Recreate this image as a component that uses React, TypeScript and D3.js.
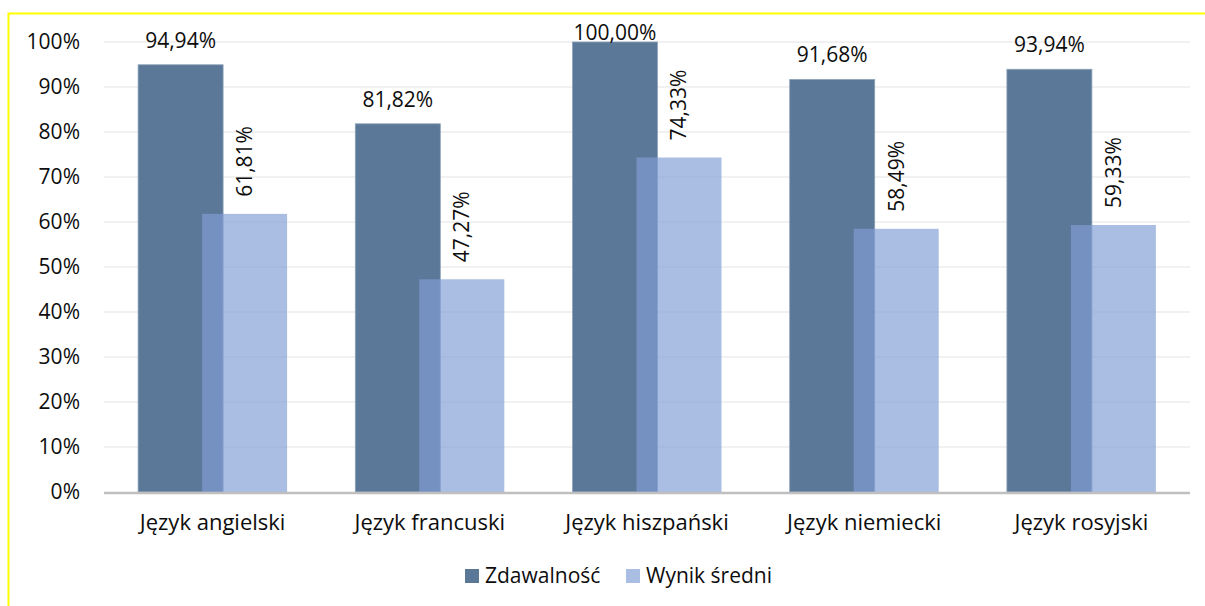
import React from "react";
import * as d3 from "d3";

const categories = ["Język angielski", "Język francuski", "Język hiszpański", "Język niemiecki", "Język rosyjski"];
const zdawalnosc = [94.94, 81.82, 100.0, 91.68, 93.94];
const wynikSredni = [61.81, 47.27, 74.33, 58.49, 59.33];
const yTicks = [0, 10, 20, 30, 40, 50, 60, 70, 80, 90, 100];
const seriesNames = ["Zdawalność", "Wynik średni"];

const W = 1205;
const H = 606;
const FONT = "'Open Sans', sans-serif";
const FS = 21;
const FS_CAT = 22;
const TXT = "#0d0d0d";
const DARK = "#5b7898";
const LIGHT = "#819dd6";
const LIGHT_OP = 0.68;

const fmt = (v: number) => v.toFixed(2).replace(".", ",") + "%";

export default function App() {
  const x = d3.scaleBand<string>().domain(categories).range([104, 1190]);
  const y = d3.scaleLinear().domain([0, 100]).range([492, 42]);
  const barW = 85;
  const overlap = 21;

  return (
    <svg width={W} height={H} style={{ position: "absolute", left: 0, top: 0, background: "#fff" }} fontFamily={FONT}>
      <rect x={0} y={0} width={W} height={H} fill="#fff" />
      <path d={`M8.5,${H + 2} V13.5 H${W + 2}`} fill="none" stroke="#ffff00" strokeWidth={2} />
      {yTicks.map((t) =>
        t === 0 ? null : (
          <line key={t} x1={104} x2={1190} y1={y(t)} y2={y(t)} stroke="#ececec" strokeWidth={1.5} />
        )
      )}
      {yTicks.map((t) => (
        <text key={t} x={80} y={y(t)} dy="0.35em" textAnchor="end" fontSize={FS} fill={TXT}>
          {t}%
        </text>
      ))}
      {categories.map((c, i) => {
        const cx = (x(c) as number) + x.bandwidth() / 2;
        const dx = cx - (barW - overlap / 2);
        const lx = cx - overlap / 2;
        return (
          <g key={c}>
            <rect x={dx} y={y(zdawalnosc[i])} width={barW} height={y(0) - y(zdawalnosc[i])} fill={DARK} stroke="#8ea2b9" strokeWidth={0.8} />
            <rect x={lx} y={y(wynikSredni[i])} width={barW} height={y(0) - y(wynikSredni[i])} fill={LIGHT} fillOpacity={LIGHT_OP} />
          </g>
        );
      })}
      <line x1={104} x2={1190} y1={y(0) + 1} y2={y(0) + 1} stroke="#bfbfbf" strokeWidth={2.5} />
      {categories.map((c, i) => {
        const cx = (x(c) as number) + x.bandwidth() / 2;
        const darkCx = cx - (barW - overlap / 2) + barW / 2;
        const lightCx = cx - overlap / 2 + barW / 2;
        const dy = Math.max(y(zdawalnosc[i]) - 17, 40);
        const ly = y(wynikSredni[i]) - 17;
        return (
          <g key={c}>
            <text x={darkCx} y={dy} textAnchor="middle" fontSize={FS} fill={TXT}>
              {fmt(zdawalnosc[i])}
            </text>
            <text transform={`translate(${lightCx},${ly}) rotate(-90)`} dy="0.35em" textAnchor="start" fontSize={FS} fill={TXT}>
              {fmt(wynikSredni[i])}
            </text>
          </g>
        );
      })}
      {categories.map((c) => (
        <text key={c} x={(x(c) as number) + x.bandwidth() / 2} y={530} textAnchor="middle" fontSize={FS_CAT} fill={TXT}>
          {c}
        </text>
      ))}
      <g>
        <rect x={465} y={569} width={14} height={14} fill={DARK} />
        <text x={485} y={583} fontSize={FS} fill={TXT}>{seriesNames[0]}</text>
        <rect x={626} y={569} width={14} height={14} fill={LIGHT} fillOpacity={LIGHT_OP} />
        <text x={646} y={583} fontSize={FS} fill={TXT}>{seriesNames[1]}</text>
      </g>
    </svg>
  );
}
